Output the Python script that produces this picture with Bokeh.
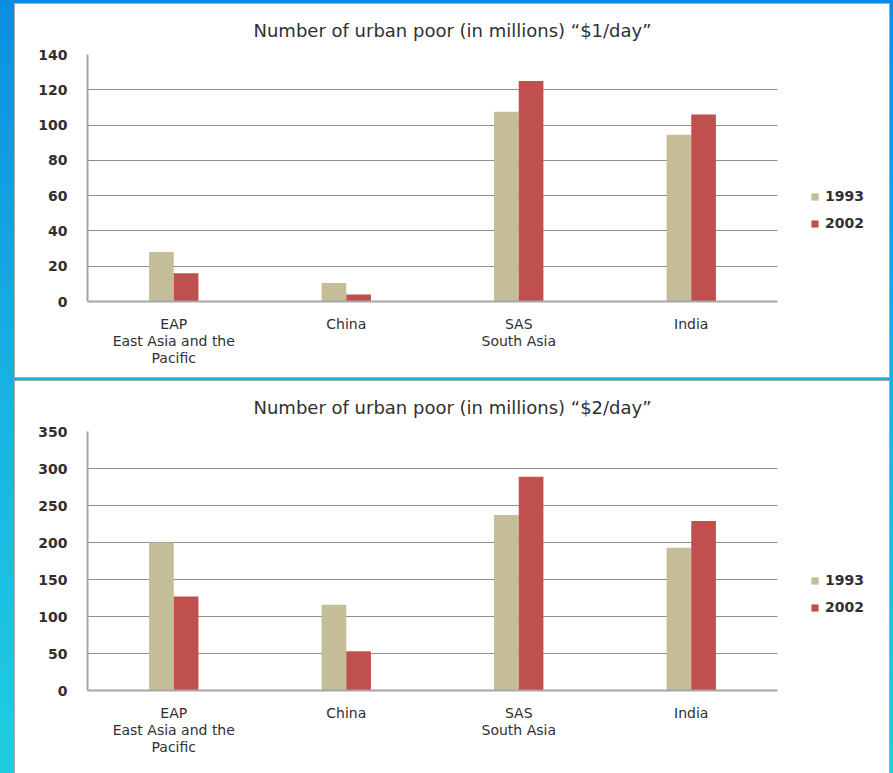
from bokeh.plotting import figure
from bokeh.models import (FixedTicker, Legend, LegendItem, ColumnDataSource,
                          LinearAxis, Range1d)
from bokeh.transform import dodge
from bokeh.layouts import column
from bokeh.embed import file_html
from bokeh.resources import INLINE

categories = ["EAP", "China", "SAS", "India"]
label_line1 = ["EAP", "China", "SAS", "India"]
label_line2 = ["East Asia and the", " ", "South Asia", " "]
label_line3 = ["Pacific", " ", " ", " "]
series_names = ["1993", "2002"]

usd1_1993 = [28, 10.5, 107.5, 94.5]
usd1_2002 = [16, 4, 125, 106]
usd1_ticks = [0, 20, 40, 60, 80, 100, 120, 140]

usd2_1993 = [200, 116, 237, 193]
usd2_2002 = [127, 53, 289, 229]
usd2_ticks = [0, 50, 100, 150, 200, 250, 300, 350]

titles = ["Number of urban poor  (in millions) \u201c$1/day\u201d",
          "Number of urban poor  (in millions) \u201c$2/day\u201d"]

C1993 = "#C4BD97"
C2002 = "#C0504D"
TXT = "#303030"
FONT = "DejaVu Sans"

cat_pos = list(range(len(categories)))
cat_bounds = (-0.5, len(categories) - 0.5)
LEGEND_SPACE = 0.6435  # extra room (in category widths) right of the bars for the legend


def style_cat_axis(ax, labels, standoff):
    ax.ticker = FixedTicker(ticks=cat_pos, minor_ticks=[])
    ax.major_label_overrides = {i: lab for i, lab in zip(cat_pos, labels)}
    ax.major_tick_line_color = None
    ax.minor_tick_line_color = None
    ax.major_tick_out = 0
    ax.major_tick_in = 0
    ax.minor_tick_out = 0
    ax.major_label_standoff = standoff
    ax.major_label_text_font = FONT
    ax.major_label_text_font_size = "14px"
    ax.major_label_text_color = TXT
    ax.bounds = cat_bounds


def make_chart(title, v1993, v2002, ticks, height, top, bottom, legend_y):
    src = ColumnDataSource(dict(pos=cat_pos, cat=categories, a=v1993, b=v2002))
    p = figure(x_range=Range1d(cat_bounds[0], cat_bounds[1] + LEGEND_SPACE),
               y_range=(0, ticks[-1]), width=874, height=height,
               output_backend="svg", toolbar_location=None,
               min_border_left=72, min_border_right=1,
               min_border_top=top, min_border_bottom=bottom,
               margin=(4, 4, 0, 15),
               styles={"box-shadow": "0 0 0 1px #a9a9a9",
                       "background-color": "white"})
    p.title.text = title
    p.title.align = "left"
    p.title.offset = 166
    p.title.standoff = 27
    p.title.text_font = FONT
    p.title.text_font_size = "18px"
    p.title.text_font_style = "normal"
    p.title.text_color = TXT
    r1 = p.vbar(x=dodge("pos", -0.0715), top="a", width=0.143,
                source=src, fill_color=C1993, line_color=None)
    r2 = p.vbar(x=dodge("pos", 0.0715), top="b", width=0.143,
                source=src, fill_color=C2002, line_color=None)
    p.outline_line_color = None
    p.background_fill_color = "white"
    p.border_fill_color = "white"
    p.xgrid.grid_line_color = None
    p.ygrid.grid_line_color = "#8e8e8e"
    p.ygrid.grid_line_width = 1
    try:
        p.ygrid.cross_bounds = cat_bounds
    except Exception:
        pass
    p.yaxis.ticker = FixedTicker(ticks=ticks, minor_ticks=[])
    p.yaxis.major_tick_line_color = None
    p.yaxis.minor_tick_line_color = None
    p.yaxis.major_tick_out = 0
    p.yaxis.major_tick_in = 0
    p.yaxis.minor_tick_out = 0
    p.yaxis.axis_line_color = "#a6a6a6"
    p.yaxis.axis_line_width = 2
    p.yaxis.major_label_standoff = 20
    p.yaxis.major_label_text_font = FONT
    p.yaxis.major_label_text_font_size = "14px"
    p.yaxis.major_label_text_font_style = "bold"
    p.yaxis.major_label_text_color = TXT

    ax1 = p.xaxis[0]
    style_cat_axis(ax1, label_line1, 14)
    ax1.axis_line_color = "#a6a6a6"
    ax1.axis_line_width = 2
    ax2 = LinearAxis()
    style_cat_axis(ax2, label_line2, -2)
    ax2.axis_line_color = None
    p.add_layout(ax2, "below")
    ax3 = LinearAxis()
    style_cat_axis(ax3, label_line3, -2)
    ax3.axis_line_color = None
    p.add_layout(ax3, "below")

    legend = Legend(items=[LegendItem(label=series_names[0], renderers=[r1]),
                           LegendItem(label=series_names[1], renderers=[r2])],
                    location=(723, legend_y), padding=0, margin=0, spacing=7,
                    glyph_width=9, glyph_height=9, label_height=20,
                    label_standoff=6, border_line_color=None,
                    background_fill_alpha=0,
                    label_text_font=FONT, label_text_font_size="14px",
                    label_text_font_style="bold", label_text_color=TXT)
    p.add_layout(legend)
    return p


p1 = make_chart(titles[0], usd1_1993, usd1_2002, usd1_ticks, 373, 49, 76, 68)
p2 = make_chart(titles[1], usd2_1993, usd2_2002, usd2_ticks, 392, 48, 83, 73)

layout = column(p1, p2, width=893, height=773, spacing=0,
                styles={"background": "linear-gradient(to bottom, #0b8ee2 0%, #17b2e3 50%, #20cde0 100%)"})

open("out.html", "w").write(file_html(layout, INLINE))
